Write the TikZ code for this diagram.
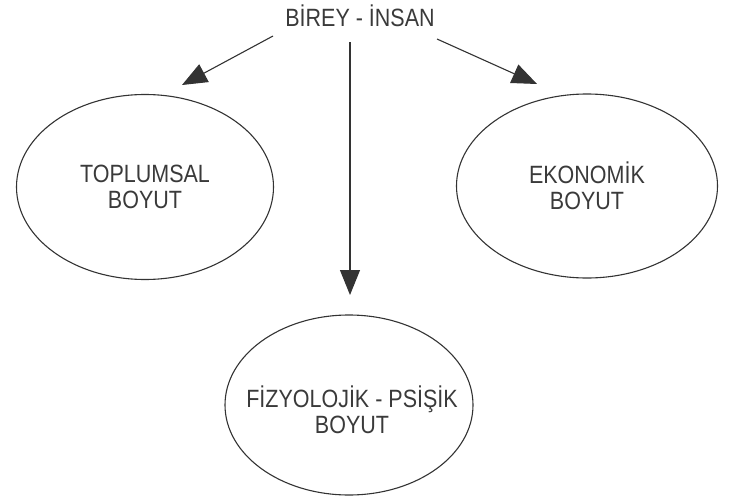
\documentclass[tikz,border=0pt]{standalone}
\usepackage{fontspec}
\setmainfont{Liberation Sans}[FakeStretch=0.86]
\usetikzlibrary{shapes.geometric,arrows.meta}
\definecolor{ink}{HTML}{333333}
\definecolor{txt}{HTML}{3A3A3A}
\begin{document}
\begin{tikzpicture}[x=1pt,y=-1pt,
  lbl/.style={text=txt,font=\fontsize{25}{26}\selectfont,align=center,inner sep=0pt},
  oval/.style={ellipse,draw=ink,line width=1.1pt,inner sep=0pt,text=txt,
    font=\fontsize{25}{26}\selectfont,align=center},
  arr/.style={draw=ink,line width=1.1pt,-{Triangle[length=25pt,width=20pt]}}]
\useasboundingbox (0,0) rectangle (732,501);
\node[lbl] (t) at (360,16) {BİREY - İNSAN};
\node[oval,minimum width=257pt,minimum height=185pt] (l) at (145,187) {TOPLUMSAL\\BOYUT};
\node[oval,minimum width=261pt,minimum height=184pt] (r) at (587,186) {EKONOMİK\\BOYUT};
\node[oval,minimum width=248pt,minimum height=180pt] (b) at (349,405) {};
\node[lbl] (bt) at (352,410) {FİZYOLOJİK - PSİŞİK\\BOYUT};
\coordinate (s1) at (273,36);
\coordinate (e1) at (182,85);
\coordinate (s2) at (437,39);
\coordinate (e2) at (537,84);
\coordinate (s3) at (350,42);
\coordinate (e3) at (350,295);
\draw[arr] (s1) -- (e1);
\draw[arr] (s2) -- (e2);
\draw[arr] (s3) -- (e3);
\end{tikzpicture}
\end{document}
